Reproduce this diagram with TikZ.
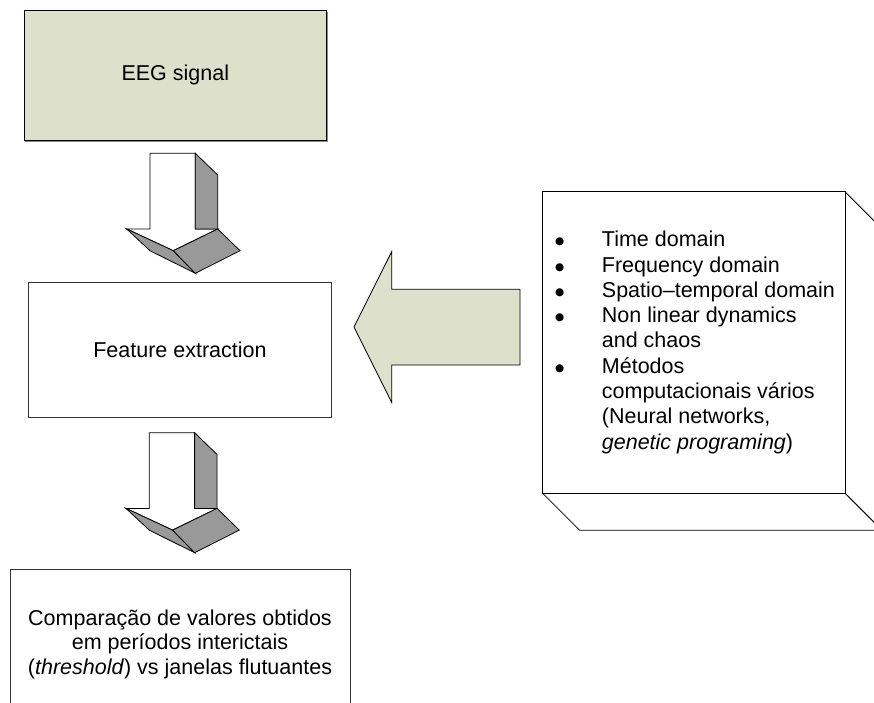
\documentclass[tikz,border=0pt]{standalone}
\usepackage{fontspec}
\setmainfont{Liberation Sans}
\newfontfamily\symfont{DejaVu Sans}
\usetikzlibrary{shadows}
\definecolor{olivefill}{RGB}{221,224,203}
\definecolor{facegray}{RGB}{153,153,153}
\newcommand{\blt}{\raisebox{1.8pt}{\fontsize{10.5}{10.5}\symfont ●}}
\begin{document}
\begin{tikzpicture}[x=1pt,y=-1pt, line join=miter,
  box/.style={draw=black!80, line width=0.8pt, inner sep=0pt, align=center,
    font=\fontsize{21.5}{25.3}\selectfont},
  facew/.style={draw=black, line width=0.8pt, fill=white},
  faceg/.style={draw=black, line width=0.8pt, fill=facegray},
  leftarrow/.style={draw=black, line width=0.8pt, fill=olivefill},
  downarrow/.pic={
    \path[facew] (0,0) -- (45.3,0) -- (45.3,75.7) -- (67.7,75.7) -- (23.3,97.4)
      -- (-23.3,75.7) -- (0,75.7) -- cycle;
    \path[faceg] (45.3,0) -- (67.7,21.7) -- (67.7,75.7) -- (45.3,75.7) -- cycle;
    \path[faceg] (-23.3,75.7) -- (23.3,97.4) -- (45.3,120) -- (0,97.4) -- cycle;
    \path[faceg] (23.3,97.4) -- (67.7,75.7) -- (90,97.4) -- (45.3,120) -- cycle;
  }
]
\useasboundingbox (0,0) rectangle (874,702);
\clip (0,0) rectangle (874,702);

% boxes on the left
\node[box, draw=black, fill=olivefill,
  drop shadow={shadow xshift=1.5pt, shadow yshift=-1.5pt, fill=black!45, opacity=1},
  minimum width=302.7pt, minimum height=130pt] (eeg) at (175.3,75) {EEG signal};
\node[box, minimum width=303.4pt, minimum height=135pt] (feat) at (180,349.8) {Feature extraction};
\node[box, minimum width=340pt, minimum height=150pt,
  font=\fontsize{21.5}{24.5}\selectfont] (compare) at (180,644)
  {Comparação de valores obtidos\\em períodos interictais\\(\textit{threshold}) vs janelas flutuantes};

% 3D block arrows
\pic at (150,153.3) {downarrow};
\pic at (149.3,432.7) {downarrow};

% left pointing arrow
\draw[leftarrow] (354,327) -- (391.7,251.7) -- (391.7,289.3) -- (520,289.3)
  -- (520,365) -- (391.7,365) -- (391.7,402.3) -- cycle;

% 3D box on the right
\path[facew] (845,191.7) -- (882,228.7) -- (882,530.3) -- (845,493.3) -- cycle;
\path[facew] (542.7,493.3) -- (845,493.3) -- (882,530.3) -- (579.7,530.3) -- cycle;
\node[box, draw=black, fill=white, minimum width=302.3pt, minimum height=301.6pt]
  (methods) at (693.85,342.5) {};
\node[anchor=base west, inner sep=0pt, font=\fontsize{21.5}{25.3}\selectfont] (list) at (555,246.7)
  {\begin{tabular}[t]{@{}p{46.7pt}@{}l@{}}
   \blt & Time domain\\
   \blt & Frequency domain\\
   \blt & Spatio–temporal domain\\
   \blt & Non linear dynamics\\
   & and chaos\\
   \blt & Métodos\\
   & computacionais vários\\
   & (Neural networks,\\
   & \textit{genetic programing})
  \end{tabular}};
\end{tikzpicture}
\end{document}
